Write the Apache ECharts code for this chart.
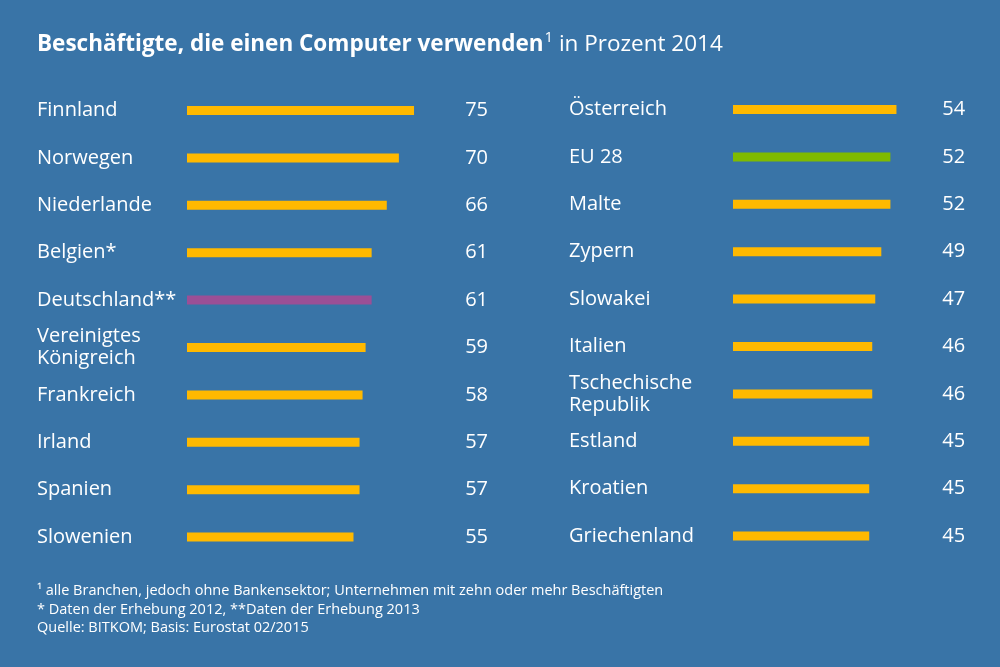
<!DOCTYPE html>
<html><head><meta charset="utf-8">
<script src="https://cdn.jsdelivr.net/npm/echarts@6/dist/echarts.min.js"></script>
<style>html,body{margin:0;padding:0;background:#3974a7}#c{width:1000px;height:667px}</style>
</head><body><div id="c"></div>
<script>
const leftCats = ['Finnland','Norwegen','Niederlande','Belgien*','Deutschland**','Vereinigtes\nKönigreich','Frankreich','Irland','Spanien','Slowenien'];
const leftVals = [75,70,66,61,61,59,58,57,57,55];
const rightCats = ['Österreich','EU 28','Malte','Zypern','Slowakei','Italien','Tschechische\nRepublik','Estland','Kroatien','Griechenland'];
const rightVals = [54,52,52,49,47,46,46,45,45,45];
const highlight = {'Deutschland**':'#9b4f96','EU 28':'#7fba00'};
const barColor = '#ffb900';

const FONT = '"Open Sans", "Noto Sans", sans-serif';
const chart = echarts.init(document.getElementById('c'));
function catAxis(gi, cats, margin){
  return {type:'category', gridIndex:gi, inverse:true, data:cats, position:'left',
    axisLine:{show:false}, axisTick:{show:false}, splitLine:{show:false},
    axisLabel:{align:'left', margin:margin, color:'#fff', fontSize:20, fontFamily:FONT, lineHeight:22, padding:[0,0,7,0]}};
}
function valAxis(gi, vals, margin){
  return {type:'category', gridIndex:gi, inverse:true, data:vals.map(String), position:'right',
    axisLine:{show:false}, axisTick:{show:false}, splitLine:{show:false},
    axisLabel:{align:'right', margin:margin, color:'#fff', fontSize:20, fontFamily:FONT, padding:[0,0,7,0]}};
}
function barData(cats, vals){
  return vals.map((v,i)=>({value:v, itemStyle:{color: highlight[cats[i]] || barColor}}));
}
chart.setOption({
  backgroundColor:'#3974a7',
  animation:false,
  title:[
    {left:37, top:30, padding:0, text:'{b|Beschäftigte, die einen Computer verwenden}{s|1}{r| in Prozent 2014}',
     textStyle:{rich:{
       b:{fontFamily:FONT, fontWeight:'bold', fontSize:22.5, color:'#fff', lineHeight:30},
       s:{fontFamily:FONT, fontWeight:'normal', fontSize:15, color:'#fff', verticalAlign:'top', lineHeight:30, padding:[0,0,6,1]},
       r:{fontFamily:FONT, fontWeight:'normal', fontSize:22.5, color:'#fff', lineHeight:30}
     }}},
    {left:37, top:582, padding:0, text:'¹ alle Branchen, jedoch ohne Bankensektor; Unternehmen mit zehn oder mehr Beschäftigten\n* Daten der Erhebung 2012, **Daten der Erhebung 2013\nQuelle: BITKOM; Basis: Eurostat 02/2015',
     textStyle:{fontFamily:FONT, fontSize:14.5, color:'#fff', fontWeight:'normal', lineHeight:18.5}}
  ],
  grid:[
    {left:187, top:86.8, width:302.7, height:474},
    {left:733, top:85.8, width:242.16, height:474}
  ],
  xAxis:[
    {type:'value', gridIndex:0, min:0, max:100, show:false},
    {type:'value', gridIndex:1, min:0, max:80, show:false}
  ],
  yAxis:[
    catAxis(0, leftCats, 150),
    valAxis(0, leftVals, -1.7),
    catAxis(1, rightCats, 164),
    valAxis(1, rightVals, -10)
  ],
  series:[
    {type:'bar', xAxisIndex:0, yAxisIndex:0, barWidth:9, data:barData(leftCats,leftVals)},
    {type:'bar', xAxisIndex:1, yAxisIndex:2, barWidth:9, data:barData(rightCats,rightVals)}
  ]
});
</script></body></html>
